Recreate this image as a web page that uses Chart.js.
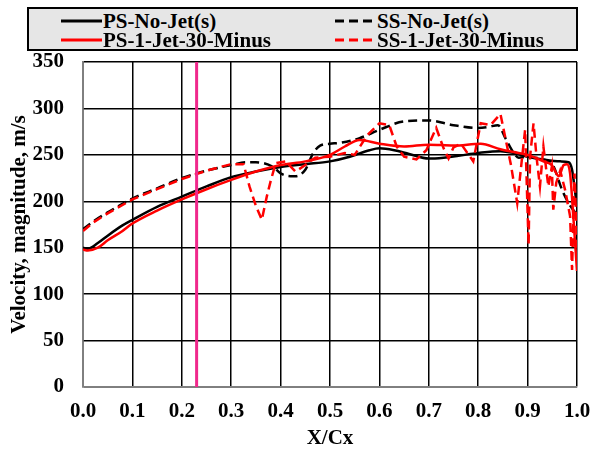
<!DOCTYPE html>
<html>
<head>
<meta charset="utf-8">
<script src="https://cdn.jsdelivr.net/npm/chart.js@4.4.1/dist/chart.umd.min.js"></script>
<style>
  body { margin: 0; background: #fff; }
  #wrap { position: relative; width: 593px; height: 456px; }
  #myChart { position: absolute; left: 0; top: 0; }
  #legend {
    position: absolute; left: 27px; top: 7px; width: 547px; height: 40px;
    background: #e6e6e6; border: 2px solid #000;
    font-family: 'Liberation Serif', 'Times New Roman', serif; font-weight: bold; font-size: 21px;
  }
  .item { position: absolute; height: 20px; line-height: 20px; white-space: nowrap; }
  .item svg { position: absolute; left: 0; top: 8px; }
  .item span { position: absolute; left: 42px; top: 0; }
</style>
</head>
<body>
<div id="wrap">
  <canvas id="myChart" width="593" height="456"></canvas>
  <div id="legend"></div>
</div>
<script>
// pressure side, no jet
const psNoJetX = [0, 0.01, 0.03, 0.05, 0.08, 0.1, 0.15, 0.2, 0.25, 0.3, 0.35, 0.4, 0.45, 0.5, 0.54, 0.58, 0.6, 0.63, 0.66, 0.7, 0.73, 0.76, 0.8, 0.845, 0.872, 0.9, 0.932, 0.966, 0.983, 0.99, 0.995, 1.0];
const psNoJetY = [150, 149, 155, 163, 174, 180, 194, 205, 216, 226, 232, 237, 240, 243, 248, 255, 257, 255, 251, 246, 247, 249, 252, 254, 252, 248, 245, 243, 242, 234, 215, 194];

// suction side, no jet
const ssNoJetX = [0, 0.02, 0.05, 0.1, 0.15, 0.2, 0.25, 0.3, 0.33, 0.35, 0.385, 0.4, 0.42, 0.43, 0.45, 0.466, 0.48, 0.5, 0.52, 0.56, 0.6, 0.65, 0.7, 0.75, 0.8, 0.82, 0.84, 0.855, 0.872, 0.882, 0.9, 0.93, 0.95, 0.97, 0.983, 1.0];
const ssNoJetY = [170, 178, 188, 203, 214, 225, 233, 239, 242, 242, 237, 230, 227, 227, 234, 252, 260, 262, 263, 268, 277, 286, 287, 282, 279, 280, 282, 268, 252, 247, 248, 245, 240, 212, 198, 185];

// pressure side, 1 jet at -30
const ps1JetX = [0, 0.01, 0.03, 0.05, 0.08, 0.1, 0.15, 0.2, 0.25, 0.3, 0.35, 0.4, 0.45, 0.5, 0.53, 0.56, 0.6, 0.65, 0.7, 0.75, 0.805, 0.845, 0.872, 0.9, 0.932, 0.949, 0.963, 0.973, 0.98, 0.986, 0.993, 1.0];
const ps1JetY = [148, 147, 150, 158, 168, 176, 190, 202, 213, 223, 232, 239, 243, 250, 259, 266, 262, 259, 261, 260, 262, 256, 253, 250, 243, 239, 227, 239, 240, 230, 180, 125];

// suction side, 1 jet at -30
const ss1JetX = [0, 0.02, 0.05, 0.1, 0.15, 0.2, 0.25, 0.3, 0.325, 0.337, 0.35, 0.362, 0.372, 0.38, 0.39, 0.41, 0.43, 0.45, 0.47, 0.5, 0.53, 0.55, 0.575, 0.6, 0.62, 0.635, 0.65, 0.675, 0.695, 0.715, 0.73, 0.74, 0.75, 0.765, 0.79, 0.805, 0.825, 0.845, 0.866, 0.879, 0.889, 0.895, 0.902, 0.905, 0.912, 0.918, 0.925, 0.932, 0.942, 0.949, 0.952, 0.958, 0.966, 0.976, 0.986, 0.99, 0.995, 1.0];
const ss1JetY = [168, 177, 187, 202, 213, 224, 233, 240, 240, 216, 195, 180, 205, 222, 241, 243, 232, 239, 247, 248, 252, 250, 271, 284, 282, 259, 248, 245, 255, 279, 257, 246, 258, 262, 243, 284, 282, 294, 240, 198, 248, 277, 153, 248, 284, 248, 216, 259, 216, 237, 191, 220, 233, 212, 184, 126, 230, 150];

// jet location marker
const jetX = 0.23;

const xTicks = [0, 0.1, 0.2, 0.3, 0.4, 0.5, 0.6, 0.7, 0.8, 0.9, 1.0];
const yTicks = [0, 50, 100, 150, 200, 250, 300, 350];

const legendItems = [
    { label: 'PS-No-Jet(s)', color: '#000', dash: false, left: 32, top: 2 },
    { label: 'SS-No-Jet(s)', color: '#000', dash: true, left: 306, top: 2 },
    { label: 'PS-1-Jet-30-Minus', color: '#ff0000', dash: false, left: 32, top: 21 },
    { label: 'SS-1-Jet-30-Minus', color: '#ff0000', dash: true, left: 306, top: 21 },
];

function pts(xs, ys) {
    return xs.map((x, i) => ({ x: x, y: ys[i] }));
}

// html legend
const legendDiv = document.getElementById('legend');
legendItems.forEach(it => {
    const d = document.createElement('div');
    d.className = 'item';
    d.style.left = it.left + 'px';
    d.style.top = it.top + 'px';
    const dashAttr = it.dash ? ' stroke-dasharray="9,5"' : '';
    d.innerHTML = '<svg width="42" height="4"><line x1="0" y1="2" x2="41" y2="2" stroke="' + it.color +
        '" stroke-width="3"' + dashAttr + '/></svg><span>' + it.label + '</span>';
    legendDiv.appendChild(d);
});

const font = { family: "'Liberation Serif', 'Times New Roman', serif", size: 21, weight: 'bold' };

var mychart = new Chart("myChart", {
    type: "scatter",
    data: {
        datasets: [{
            label: 'jet',
            data: [{ x: jetX, y: 0 }, { x: jetX, y: 350 }],
            showLine: true,
            borderColor: '#f0288c',
            borderWidth: 3,
            pointRadius: 0,
        },
        {
            label: 'SS-1-Jet-30-Minus',
            data: pts(ss1JetX, ss1JetY),
            showLine: true,
            borderColor: '#ff0000',
            borderWidth: 2.5,
            borderDash: [9, 5],
            pointRadius: 0,
        },
        {
            label: 'PS-1-Jet-30-Minus',
            data: pts(ps1JetX, ps1JetY),
            showLine: true,
            borderColor: '#ff0000',
            borderWidth: 2.5,
            pointRadius: 0,
            cubicInterpolationMode: 'monotone',
        },
        {
            label: 'SS-No-Jet(s)',
            data: pts(ssNoJetX, ssNoJetY),
            showLine: true,
            borderColor: '#000',
            borderWidth: 2.5,
            borderDash: [9, 5],
            pointRadius: 0,
            cubicInterpolationMode: 'monotone',
        },
        {
            label: 'PS-No-Jet(s)',
            data: pts(psNoJetX, psNoJetY),
            showLine: true,
            borderColor: '#000',
            borderWidth: 2.5,
            pointRadius: 0,
            cubicInterpolationMode: 'monotone',
        }]
    },
    options: {
        animation: false,
        responsive: false,
        layout: { padding: { top: 62, right: 0, left: 0, bottom: 0 } },
        plugins: {
            legend: { display: false },
            tooltip: { enabled: false },
        },
        scales: {
            x: {
                type: 'linear',
                min: 0,
                max: 1,
                afterBuildTicks: axis => { axis.ticks = xTicks.map(v => ({ value: v })); },
                // fixed axis band height and side room
                afterFit: axis => { axis.height = 69; axis.paddingLeft = 16; axis.paddingRight = 16; },
                ticks: { color: '#000', font: font, padding: 12, maxRotation: 0, minRotation: 0, callback: v => v.toFixed(1) },
                grid: { color: '#000', lineWidth: 1.5, drawTicks: false, tickLength: 0 },
                border: { color: '#808080', width: 1.5 },
                title: { display: true, text: 'X/Cx', color: '#000', font: font, padding: { top: 0, bottom: 5 } },
            },
            y: {
                type: 'linear',
                min: 0,
                max: 350,
                afterBuildTicks: axis => { axis.ticks = yTicks.map(v => ({ value: v })); },
                afterFit: axis => { axis.width = 83; },
                ticks: { color: '#000', font: font, padding: 19 },
                grid: { color: '#000', lineWidth: 1.5, drawTicks: false, tickLength: 0 },
                border: { color: '#808080', width: 1.5 },
                title: { display: true, text: 'Velocity, magnitude, m/s', color: '#000', font: font, padding: { top: 7, bottom: 0 } },
            },
        },
    }
});
</script>
</body>
</html>
